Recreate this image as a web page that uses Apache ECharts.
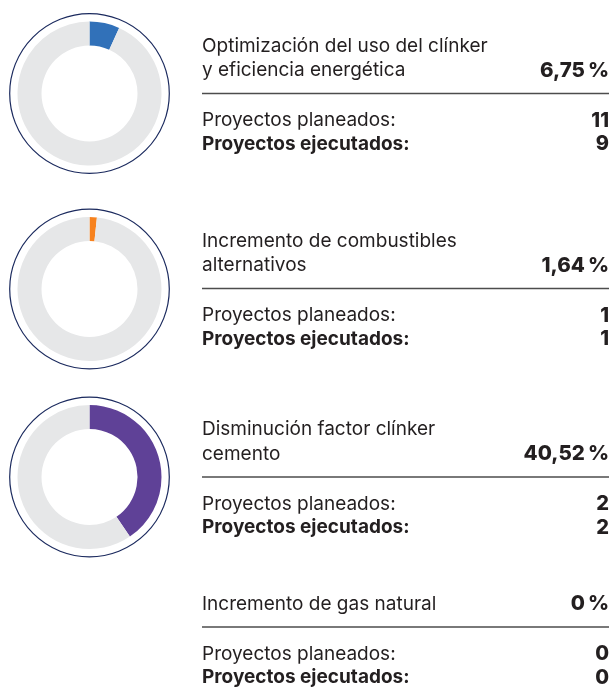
<!DOCTYPE html>
<html lang="es">
<head>
    <meta charset="UTF-8">
    <title>Proyectos</title>
    <script src="https://cdn.jsdelivr.net/npm/echarts@6/dist/echarts.min.js"></script>
    <style>
        body { margin: 0; background: #fff; }
    </style>
</head>
<body>
    <div id="main" style="width:614px;height:688px;"></div>
<script type="text/javascript">
    // datos
    var titles = [
        ['Optimización del uso del clínker', 'y eficiencia energética'],
        ['Incremento de combustibles', 'alternativos'],
        ['Disminución factor clínker', 'cemento'],
        ['Incremento de gas natural']
    ];
    var shares = [6.75, 1.64, 40.52, 0];
    var planned = [11, 1, 2, 0];
    var executed = [9, 1, 2, 0];
    var sliceColors = ['#3171b9', '#f7821e', '#5f4197', '#5f4197'];

    // layout
    var ruleY = [93.5, 288.5, 477, 627];
    var donutY = [93.5, 289, 477];
    var cx = 89.5;
    var textLeft = 202, textRight = 609;
    var ink = '#231f20';
    var fontFam = 'Inter, "Liberation Sans", sans-serif';

    function fmt(v) {
        var s = v === 0 ? '0' : v.toFixed(2).replace('.', ',');
        return s + '\u2009%';
    }

    var myChart = echarts.init(document.getElementById('main'));

    var series = [];
    var graphic = [];
    for (var i = 0; i < donutY.length; i++) {
        series.push({
            type: 'pie',
            silent: true,
            center: [cx, donutY[i]],
            radius: [48, 72],
            startAngle: 90,
            clockwise: true,
            label: { show: false },
            labelLine: { show: false },
            itemStyle: { borderWidth: 0 },
            emphasis: { disabled: true },
            data: [
                { value: shares[i], itemStyle: { color: sliceColors[i] } },
                { value: 100 - shares[i], itemStyle: { color: '#e6e7e8' } }
            ]
        });
        graphic.push({
            type: 'circle',
            silent: true,
            shape: { cx: cx, cy: donutY[i], r: 79.8 },
            style: { fill: 'none', stroke: '#1b2a5e', lineWidth: 1.2 }
        });
    }

    function txt(s, x, y, weight, align, size) {
        return {
            type: 'text',
            silent: true,
            style: {
                text: s, x: x, y: y,
                fill: ink,
                fontSize: size || 19,
                fontFamily: fontFam,
                fontWeight: weight || 'normal',
                align: align || 'left',
                verticalAlign: 'middle'
            }
        };
    }

    for (var k = 0; k < titles.length; k++) {
        var ry = ruleY[k];
        var lines = titles[k];
        var lastY = ry - 23;
        for (var j = 0; j < lines.length; j++) {
            var ly = lastY - (lines.length - 1 - j) * 24.5;
            graphic.push(txt(lines[j], textLeft, ly));
        }
        graphic.push(txt(fmt(shares[k]), textRight, lastY, 800, 'right', 20.5));
        graphic.push({
            type: 'line',
            silent: true,
            shape: { x1: textLeft, y1: ry, x2: textRight, y2: ry },
            style: { stroke: '#4d4d4d', lineWidth: 1.5 }
        });
        graphic.push(txt('Proyectos planeados:', textLeft, ry + 27));
        graphic.push(txt(String(planned[k]), textRight, ry + 27, 800, 'right', 20));
        graphic.push(txt('Proyectos ejecutados:', textLeft, ry + 50.5, 'bold'));
        graphic.push(txt(String(executed[k]), textRight, ry + 50.5, 800, 'right', 20));
    }

    var option = {
        animation: false,
        series: series,
        graphic: graphic
    };
    myChart.setOption(option);
</script>
</body>
</html>
